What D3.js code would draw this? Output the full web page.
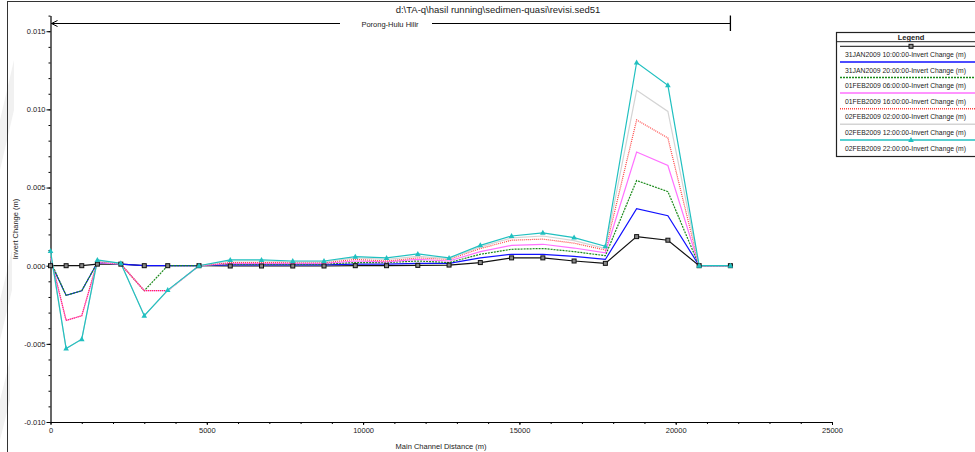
<!DOCTYPE html>
<html>
<head>
<meta charset="utf-8">
<script src="https://cdn.jsdelivr.net/npm/d3@7"></script>
<style>
  body { margin: 0; background: #fff; }
  svg { display: block; font-family: "Liberation Sans", Arial, sans-serif; }
</style>
</head>
<body>
<div id="chart"></div>
<script>
// stations along the main channel (m)
const stations = [0, 500, 1000, 1500, 2250, 3000, 3750, 4750, 5750, 6750, 7750, 8750, 9750,
  10750, 11750, 12750, 13750, 14750, 15750, 16750, 17750, 18750, 19750, 20750, 21750];

const seriesNames = [
  "31JAN2009 10:00:00-Invert Change (m)",
  "31JAN2009 20:00:00-Invert Change (m)",
  "01FEB2009 06:00:00-Invert Change (m)",
  "01FEB2009 16:00:00-Invert Change (m)",
  "02FEB2009 02:00:00-Invert Change (m)",
  "02FEB2009 12:00:00-Invert Change (m)",
  "02FEB2009 22:00:00-Invert Change (m)"
];

// invert change (m) per profile
const jan31h10 = [0, 0, 0, 0.0001, 0.0001, 0, 0, 0, -0.00002, -0.00002, -0.00002, -0.00002, 0,
  0, 0.00002, 0.00004, 0.0002, 0.0005, 0.0005, 0.0003, 0.00015, 0.00186, 0.00163, 0, 0];
const jan31h20 = [0.0002, -0.0019, -0.0016, 0.0002, 0.0001, 0, 0, 0, 0.00005, 0.00005, 0.00005, 0.00005, 0.0001,
  0.0001, 0.00015, 0.00015, 0.0005, 0.00073, 0.00073, 0.0006, 0.0004, 0.00365, 0.0032, 0, 0];
const feb01h06 = [0.0003, -0.0019, -0.0016, 0.0002, 0.0001, -0.0016, 0, 0, 0.0001, 0.0001, 0.0001, 0.0001, 0.0002,
  0.0002, 0.0003, 0.0002, 0.00073, 0.00105, 0.0011, 0.0009, 0.00064, 0.00545, 0.00474, 0, 0];
const feb01h16 = [0.0005, -0.0035, -0.0032, 0.0002, 0.0001, -0.0016, -0.0016, 0, 0.00015, 0.00015, 0.00015, 0.00015, 0.0003,
  0.00025, 0.0004, 0.0003, 0.0009, 0.0013, 0.00137, 0.00113, 0.00083, 0.00727, 0.00641, 0, 0];
const feb02h02 = [0.0006, -0.0035, -0.0032, 0.0003, 0.0001, -0.0016, -0.0016, 0, 0.0002, 0.0002, 0.0002, 0.0002, 0.0004,
  0.0003, 0.0005, 0.0004, 0.0011, 0.00163, 0.0017, 0.00144, 0.001, 0.00932, 0.00817, 0, 0];
const feb02h12 = [0.0008, -0.0053, -0.0047, 0.0003, 0.00015, -0.0032, -0.0016, 0, 0.0003, 0.0003, 0.00025, 0.00025, 0.0005,
  0.0004, 0.0006, 0.00045, 0.0012, 0.00178, 0.0019, 0.0016, 0.0011, 0.01122, 0.00987, 0, 0];
const feb02h22 = [0.00094, -0.0053, -0.0047, 0.00037, 0.00015, -0.0032, -0.00156, 0, 0.00037, 0.00037, 0.0003, 0.0003, 0.00058,
  0.0005, 0.00075, 0.0005, 0.0013, 0.0019, 0.0021, 0.0018, 0.00124, 0.013, 0.01154, 0, 0];

const xTicks = [0, 5000, 10000, 15000, 20000, 25000];
const yTicks = [-0.010, -0.005, 0, 0.005, 0.010, 0.015];

const chartTitle = "d:\\TA-q\\hasil running\\sedimen-quasi\\revisi.sed51";
const reachLabel = "Porong-Hulu Hilir";

//line styles for each profile
const styles = [
  { color: "#111", dash: null, marker: "square" },
  { color: "#1010ff", dash: null, marker: null },
  { color: "#1a8a1a", dash: "2,1", marker: null },
  { color: "#ff70ff", dash: null, marker: null },
  { color: "#ff4040", dash: "1,1", marker: null },
  { color: "#d4d4d4", dash: null, marker: null },
  { color: "#20c0c0", dash: null, marker: "triangle" }
];

const allSeries = [jan31h10, jan31h20, feb01h06, feb01h16, feb02h02, feb02h12, feb02h22];

const width = 975, height = 452;

const svg = d3.select("#chart").append("svg")
  .attr("width", width)
  .attr("height", height);

//faint watermark strokes on the left edge
svg.append("path")
  .attr("d", "M0,120 L14,60 L14,110 L0,170 Z M0,300 L12,250 L12,290 L0,340 Z M0,400 L10,360 L10,400 L0,440 Z")
  .attr("fill", "#f1f1f1");

//outer frame
svg.append("rect")
  .attr("x", 7.5).attr("y", 1.5)
  .attr("width", 1000).attr("height", 500)
  .attr("fill", "none").attr("stroke", "#333").attr("stroke-width", 1);

const x = d3.scaleLinear().domain([0, 25000]).range([50.5, 832]);
const y = d3.scaleLinear().domain([-0.010, 0.016]).range([422, 15.6]);

//minor ticks
svg.append("g")
  .attr("transform", "translate(50.5,0)")
  .call(d3.axisLeft(y).tickValues(d3.range(-10, 17).map(i => i / 1000)).tickSize(2).tickSizeOuter(0).tickFormat(""))
  .call(g => g.select(".domain").remove());
svg.append("g")
  .attr("transform", "translate(0,422)")
  .call(d3.axisBottom(x).tickValues(d3.range(0, 25001, 1000)).tickSize(2).tickSizeOuter(0).tickFormat(""))
  .call(g => g.select(".domain").remove());

//major axes
const yAxis = svg.append("g")
  .attr("transform", "translate(50.5,0)")
  .call(d3.axisLeft(y).tickValues(yTicks).tickSize(4).tickSizeOuter(0).tickPadding(1).tickFormat(d => d.toFixed(3)));
const xAxis = svg.append("g")
  .attr("transform", "translate(0,422)")
  .call(d3.axisBottom(x).tickValues(xTicks).tickSize(3).tickSizeOuter(0).tickPadding(3).tickFormat(d => d));

svg.selectAll(".tick text").attr("font-size", 7.5).attr("fill", "#222")
  .attr("font-family", "'Liberation Sans', Arial, sans-serif");
svg.selectAll(".domain").attr("stroke", "#000").attr("stroke-width", 1.2);

//axis titles
svg.append("text")
  .attr("transform", "translate(18,229) rotate(-90)")
  .attr("text-anchor", "middle")
  .attr("font-size", 7.5)
  .attr("fill", "#222")
  .text("Invert Change (m)");
svg.append("text")
  .attr("x", 441).attr("y", 449)
  .attr("text-anchor", "middle")
  .attr("font-size", 7.5)
  .attr("fill", "#222")
  .text("Main Channel Distance (m)");

//title
svg.append("text")
  .attr("x", 498).attr("y", 12.5)
  .attr("text-anchor", "middle")
  .attr("font-size", 9.5)
  .attr("fill", "#222")
  .text(chartTitle);

//reach indicator
svg.append("line")
  .attr("x1", x(0) + 1).attr("x2", 340).attr("y1", 23.5).attr("y2", 23.5)
  .attr("stroke", "#000").attr("stroke-width", 1);
svg.append("line")
  .attr("x1", 432).attr("x2", x(21750)).attr("y1", 23.5).attr("y2", 23.5)
  .attr("stroke", "#000").attr("stroke-width", 1);
svg.append("line")
  .attr("x1", x(21750)).attr("x2", x(21750)).attr("y1", 15.5).attr("y2", 31)
  .attr("stroke", "#000").attr("stroke-width", 1.3);
svg.append("path")
  .attr("d", `M${x(0) + 7},20.5 L${x(0) + 1},23.5 L${x(0) + 7},26.5`)
  .attr("fill", "none").attr("stroke", "#000").attr("stroke-width", 1);
svg.append("text")
  .attr("x", 390).attr("y", 26.5)
  .attr("text-anchor", "middle")
  .attr("font-size", 7.5)
  .attr("fill", "#222")
  .text(reachLabel);

//profile lines
const line = d3.line()
  .x((d, i) => x(stations[i]))
  .y(d => y(d));

const plot = svg.append("g");
allSeries.forEach(function(vals, k) {
  const s = styles[k];
  plot.append("path")
    .attr("d", line(vals))
    .attr("fill", "none")
    .attr("stroke", s.color)
    .attr("stroke-width", 1.2)
    .attr("stroke-dasharray", s.dash);
});

function drawMarkers(g, vals, s) {
  if (s.marker === "square") {
    g.selectAll(null).data(vals).join("rect")
      .attr("x", (d, i) => x(stations[i]) - 2)
      .attr("y", d => y(d) - 2)
      .attr("width", 4).attr("height", 4)
      .attr("fill", "#888").attr("stroke", "#111").attr("stroke-width", 1);
  } else if (s.marker === "triangle") {
    g.selectAll(null).data(vals).join("path")
      .attr("d", (d, i) => {
        const cx = x(stations[i]), cy = y(d);
        return `M${cx},${cy - 3} L${cx + 2.8},${cy + 2} L${cx - 2.8},${cy + 2} Z`;
      })
      .attr("fill", s.color);
  }
}
allSeries.forEach(function(vals, k) {
  drawMarkers(plot.append("g"), vals, styles[k]);
});

//legend (box runs past the right edge like the original)
const lg = svg.append("g");
lg.append("rect")
  .attr("x", 836.5).attr("y", 32.5)
  .attr("width", 200).attr("height", 124)
  .attr("fill", "#fff").attr("stroke", "#222").attr("stroke-width", 1.2);
lg.append("text")
  .attr("x", 911).attr("y", 40)
  .attr("text-anchor", "middle")
  .attr("font-size", 7.5).attr("font-weight", "bold")
  .attr("fill", "#222")
  .text("Legend");
lg.append("line")
  .attr("x1", 836.5).attr("x2", 1000).attr("y1", 41.7).attr("y2", 41.7)
  .attr("stroke", "#222").attr("stroke-width", 1);

const rowH = 15.6;
const rows = lg.selectAll(".legendRow")
  .data(seriesNames)
  .join("g")
  .attr("transform", (d, i) => `translate(0,${46.3 + i * rowH})`);
rows.append("line")
  .attr("x1", 840).attr("x2", 1000).attr("y1", 0).attr("y2", 0)
  .attr("stroke", (d, i) => styles[i].color)
  .attr("stroke-width", (d, i) => i === 0 ? 1 : 1.5)
  .attr("stroke-dasharray", (d, i) => styles[i].dash);
rows.append("text")
  .attr("x", 845).attr("y", 10.7)
  .attr("font-size", 7.3)
  .attr("textLength", 121)
  .attr("lengthAdjust", "spacingAndGlyphs")
  .attr("fill", "#222")
  .text(d => d);
rows.filter((d, i) => i === 0).append("rect")
  .attr("x", 909).attr("y", -2).attr("width", 4).attr("height", 4)
  .attr("fill", "#888").attr("stroke", "#111");
rows.filter((d, i) => i === 6).append("path")
  .attr("d", "M911,-3 L913.8,2 L908.2,2 Z")
  .attr("fill", styles[6].color);
</script>
</body>
</html>
